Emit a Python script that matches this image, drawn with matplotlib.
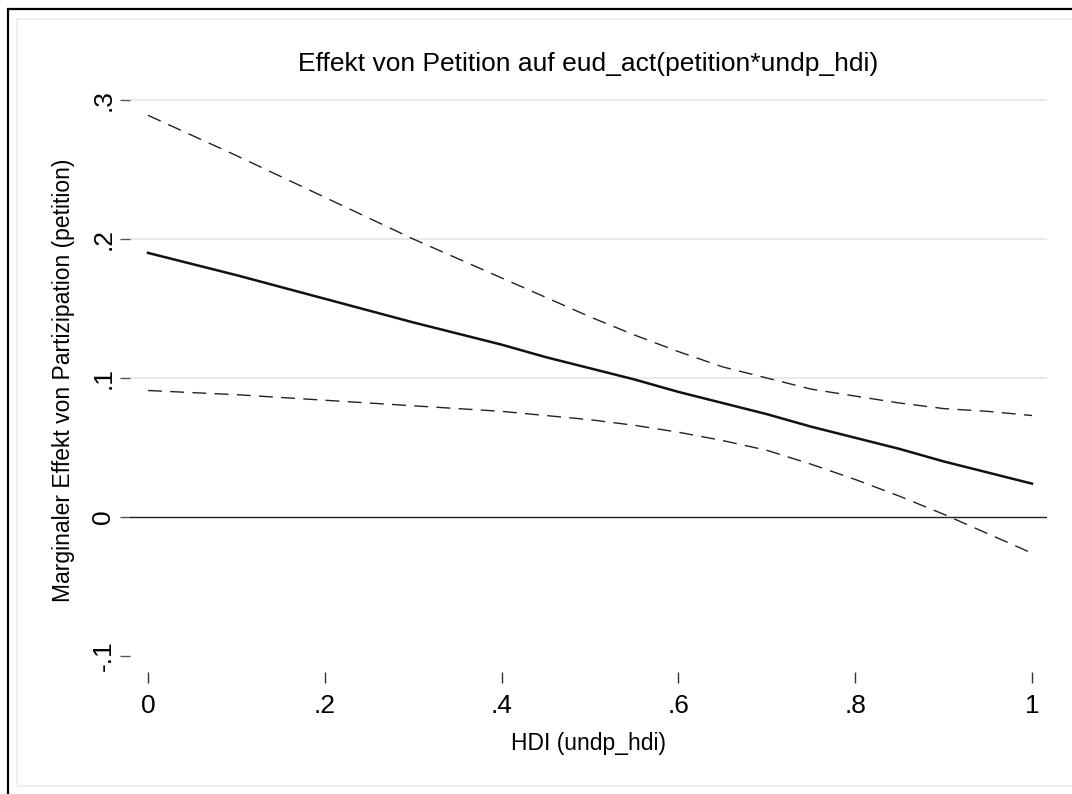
import matplotlib
matplotlib.use("Agg")
import matplotlib.pyplot as plt
from matplotlib.patches import Rectangle

plt.rcParams['font.family'] = ['Liberation Sans', 'DejaVu Sans']

# values
hdi = [0.0, 0.1, 0.2, 0.3, 0.4, 0.45, 0.5, 0.55, 0.6, 0.65, 0.7, 0.75, 0.8, 0.85, 0.9, 0.95, 1.0]
effect = [0.190, 0.174, 0.157, 0.140, 0.124, 0.115, 0.107, 0.099, 0.090, 0.082, 0.074,
          0.065, 0.057, 0.049, 0.040, 0.032, 0.024]
upper = [0.289, 0.260, 0.230, 0.200, 0.172, 0.158, 0.144, 0.131, 0.119, 0.108, 0.100,
         0.092, 0.087, 0.082, 0.078, 0.076, 0.073]
lower = [0.091, 0.088, 0.084, 0.080, 0.076, 0.073, 0.070, 0.066, 0.061, 0.055, 0.048,
         0.038, 0.027, 0.015, 0.002, -0.012, -0.026]

x_ticks = [0, 0.2, 0.4, 0.6, 0.8, 1.0]
x_tick_labels = ['0', '.2', '.4', '.6', '.8', '1']
y_ticks = [-0.1, 0, 0.1, 0.2, 0.3]
y_tick_labels = ['-.1', '0', '.1', '.2', '.3']
grid_vals = [0.1, 0.2, 0.3]

W, H = 1072, 794
fig = plt.figure(figsize=(W / 100, H / 100), dpi=100, facecolor='white')

# frames around the graph
fig.patches.append(Rectangle((8 / W, -0.05), 1.2, (H - 9) / H + 0.05, transform=fig.transFigure,
                             fill=False, edgecolor='black', linewidth=1.6))
fig.patches.append(Rectangle((17 / W, 8 / H), 1.2, (H - 19 - 8) / H, transform=fig.transFigure,
                             fill=False, edgecolor='#ebebeb', linewidth=1.2))

ax = fig.add_axes([130 / W, 1 - 672 / H, 917 / W, 584 / H])
ax.set_xlim(-18 / 884, 1 + 15 / 884)
ax.set_ylim(-0.1 - 16 / 1390, 0.3 + 12 / 1390)

for g in grid_vals:
    ax.axhline(g, color='#eaeaea', linewidth=1.5, zorder=1)
ax.axhline(0, color='#222222', linewidth=1.0, zorder=2)

ax.plot(hdi, upper, color='#222222', linewidth=1.0, linestyle=(0, (10, 6)), zorder=3)
ax.plot(hdi, lower, color='#222222', linewidth=1.0, linestyle=(0, (10, 6)), zorder=3)
ax.plot(hdi, effect, color='#111111', linewidth=1.8, zorder=4)

for s in ax.spines.values():
    s.set_visible(False)

ax.set_xticks(x_ticks)
ax.set_xticklabels(x_tick_labels, fontsize=19)
ax.set_yticks(y_ticks)
ax.set_yticklabels(y_tick_labels, fontsize=19, rotation=90, va='center')
ax.tick_params(axis='x', direction='out', length=8, width=1, color='#333333', pad=8)
ax.tick_params(axis='y', direction='out', length=7.5, width=1, color='#555555', pad=3)

ax.set_xlabel('HDI (undp_hdi)', fontsize=16.5, labelpad=10)
ax.set_ylabel('Marginaler Effekt von Partizipation (petition)', fontsize=16.5, labelpad=12)
ax.set_title('Effekt von Petition auf eud_act(petition*undp_hdi)', fontsize=19, pad=12)

fig.savefig('out.png', dpi=100, facecolor='white')
